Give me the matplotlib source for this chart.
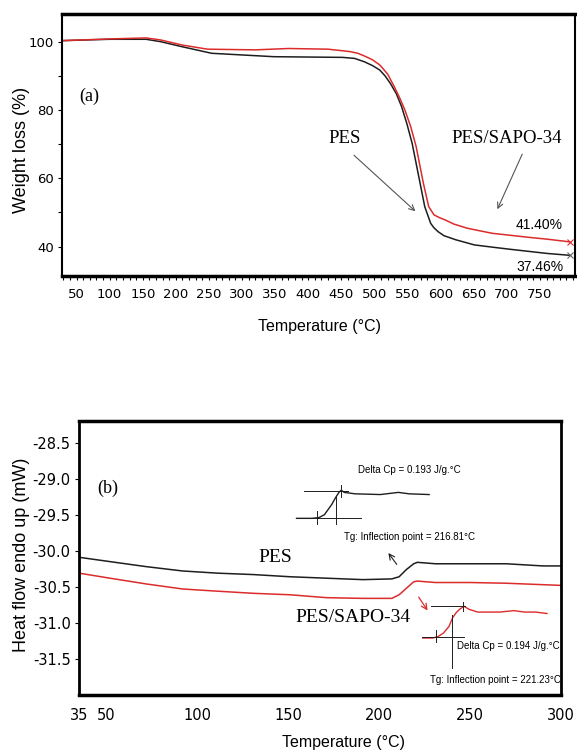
import matplotlib
matplotlib.use("Agg")
import matplotlib.pyplot as plt
from matplotlib.ticker import MultipleLocator, FixedLocator

SANS = "Liberation Sans"
SERIF = "Liberation Serif"
BLACK = "#1e1e1e"
RED = "#dc2b2b"

# --- (a) TGA: weight (%) vs temperature (C) ---
tga_temp_pes = [28, 100, 155, 177, 210, 254, 320, 348, 452, 470, 485, 497, 508, 516,
                524, 533, 541, 549, 557, 568, 576, 585, 590, 596, 605, 623, 651, 680,
                706, 761, 795]
tga_wt_pes = [100.3, 100.7, 100.7, 100.0, 98.5, 96.6, 95.9, 95.6, 95.4, 95.1, 94.1,
              93.0, 91.7, 90.0, 87.8, 84.8, 81.0, 76.0, 70.2, 59.5, 51.7, 46.8, 45.5,
              44.4, 43.2, 42.0, 40.5, 39.8, 39.2, 38.0, 37.46]
tga_temp_sapo = [28, 100, 155, 177, 210, 248, 320, 370, 430, 463, 475, 485, 497, 508,
                 520, 530, 538, 546, 555, 563, 574, 582, 590, 598, 607, 620, 640, 660,
                 678, 734, 760, 795]
tga_wt_sapo = [100.3, 100.8, 101.1, 100.5, 99.0, 97.8, 97.6, 98.0, 97.8, 97.1, 96.6,
               95.8, 94.7, 93.2, 90.5, 86.8, 83.6, 80.0, 75.0, 69.3, 58.5, 51.7, 49.3,
               48.5, 47.8, 46.6, 45.4, 44.6, 43.9, 42.7, 42.2, 41.40]
tga_xticks = [50, 100, 150, 200, 250, 300, 350, 400, 450, 500, 550, 600, 650, 700, 750]
tga_yticks = [40, 60, 80, 100]

# --- (b) DSC: heat flow (mW) vs temperature (C) ---
dsc_temp = [35, 52, 72, 92, 111, 131, 151, 171, 191, 207, 211, 215, 219, 221,
            231, 250, 270, 290, 300]
dsc_hf_pes = [-30.09, -30.15, -30.22, -30.28, -30.31, -30.33, -30.36, -30.38, -30.40,
              -30.39, -30.36, -30.26, -30.18, -30.16, -30.18, -30.18, -30.18, -30.21, -30.21]
dsc_hf_sapo = [-30.31, -30.38, -30.46, -30.53, -30.56, -30.59, -30.61, -30.65, -30.66,
               -30.66, -30.61, -30.52, -30.43, -30.42, -30.44, -30.44, -30.45, -30.47, -30.48]
dsc_yticks = [-31.5, -31.0, -30.5, -30.0, -29.5, -29.0, -28.5]
dsc_xticks = [35, 50, 100, 150, 200, 250, 300]

# enlarged glass-transition steps drawn inside panel (b)
step_temp_pes = [154.6, 163.0, 166.9, 169.9, 171.9, 173.9, 175.9, 177.9, 179.2, 180.8,
                 186.8, 200.7, 210.6, 216.5, 227.5]
step_hf_pes = [-29.55, -29.55, -29.54, -29.50, -29.43, -29.36, -29.27, -29.19, -29.16,
               -29.19, -29.21, -29.22, -29.19, -29.21, -29.22]
step_temp_sapo = [224.1, 229.4, 232.4, 235.4, 238.4, 240.4, 242.3, 244.3, 246.7, 249.3,
                  254.2, 266.2, 274.1, 280.0, 286.0, 292.3]
step_hf_sapo = [-31.21, -31.21, -31.19, -31.14, -31.05, -30.93, -30.86, -30.81, -30.77,
                -30.81, -30.85, -30.85, -30.83, -30.85, -30.85, -30.87]
# construction lines: (x0, x1, y0, y1)
guides_pes = [(158.6, 182.8, -29.17, -29.17), (154.6, 189.8, -29.55, -29.55),
              (166.0, 166.0, -29.455, -29.63), (176.5, 176.5, -29.25, -29.63),
              (179.2, 179.2, -29.09, -29.26)]
guides_sapo = [(228.5, 247.3, -30.76, -30.76), (223.5, 246.7, -31.19, -31.19),
               (231.4, 231.4, -31.10, -31.27), (240.0, 240.0, -30.89, -31.62),
               (246.3, 246.3, -30.71, -30.84)]

W, H = 577, 753
fig = plt.figure(figsize=(W / 100, H / 100), dpi=100)


def px_axes(left, top, right, bottom):
    return fig.add_axes([left / W, 1 - bottom / H, (right - left) / W, (bottom - top) / H])


# ---------------- panel (a) ----------------
ax1 = px_axes(62, 14, 575, 276)
ax1.plot(tga_temp_pes, tga_wt_pes, color=BLACK, lw=1.1)
ax1.plot(tga_temp_sapo, tga_wt_sapo, color=RED, lw=1.1)
ax1.plot(tga_temp_pes[-1], tga_wt_pes[-1], marker="x", color="#666666", ms=4, mew=0.8)
ax1.plot(tga_temp_sapo[-1], tga_wt_sapo[-1], marker="x", color=RED, ms=4, mew=0.8)
ax1.set_xlim(28, 803)
ax1.set_ylim(31.4, 108.1)
ax1.xaxis.set_major_locator(FixedLocator(tga_xticks))
ax1.xaxis.set_minor_locator(MultipleLocator(10))
ax1.yaxis.set_major_locator(FixedLocator(tga_yticks))
ax1.yaxis.set_minor_locator(MultipleLocator(10))
ax1.tick_params(which="both", direction="out", length=3, width=0.8, labelsize=9.5, pad=6)
ax1.tick_params(axis="y", pad=3)
ax1.spines["top"].set_linewidth(2.5)
ax1.spines["bottom"].set_linewidth(2.5)
ax1.spines["left"].set_linewidth(1.5)
ax1.spines["right"].set_linewidth(1.5)

ax1.text(69, 84, "(a)", family=SERIF, fontsize=13, ha="center", va="center")
ax1.text(455, 71.7, "PES", family=SERIF, fontsize=13.5, ha="center", va="center")
ax1.text(700, 71.7, "PES/SAPO-34", family=SERIF, fontsize=13.5, ha="center", va="center")
ax1.annotate("", xy=(565, 49.8), xytext=(466, 67.3),
             arrowprops=dict(arrowstyle="->", color="#555555", lw=0.8))
ax1.annotate("", xy=(684, 50.2), xytext=(725, 67.8),
             arrowprops=dict(arrowstyle="->", color="#555555", lw=0.8))
ax1.text(785, 46.3, "41.40%", family=SANS, fontsize=10, ha="right", va="center")
ax1.text(785, 34.1, "37.46%", family=SANS, fontsize=10, ha="right", va="center")

fig.text(22 / W, 1 - 150 / H, "Weight loss (%)", family=SANS, fontsize=13,
         rotation=90, ha="center", va="center")
fig.text(320 / W, 1 - 326 / H, "Temperature (°C)", family=SANS, fontsize=11.5,
         ha="center", va="center")

# ---------------- panel (b) ----------------
ax2 = px_axes(79, 421, 561, 695)
ax2.plot(dsc_temp, dsc_hf_pes, color=BLACK, lw=1.1)
ax2.plot(dsc_temp, dsc_hf_sapo, color=RED, lw=1.1)
ax2.plot(step_temp_pes, step_hf_pes, color=BLACK, lw=1.0)
ax2.plot(step_temp_sapo, step_hf_sapo, color=RED, lw=1.0)
for x0, x1, y0, y1 in guides_pes + guides_sapo:
    ax2.plot([x0, x1], [y0, y1], color=BLACK, lw=0.7)
ax2.set_xlim(35, 300)
ax2.set_ylim(-32.0, -28.2)
ax2.xaxis.set_major_locator(FixedLocator(dsc_xticks))
ax2.yaxis.set_major_locator(FixedLocator(dsc_yticks))
ax2.yaxis.set_major_formatter(plt.FuncFormatter(lambda v, p: f"{v:.1f}"))
ax2.tick_params(axis="x", direction="out", length=0, labelsize=10.5, pad=9)
ax2.tick_params(axis="y", direction="out", length=3, width=0.8, labelsize=10.5, pad=3)
ax2.spines["top"].set_linewidth(2.5)
ax2.spines["bottom"].set_linewidth(2.5)
ax2.spines["left"].set_linewidth(2.0)
ax2.spines["right"].set_linewidth(2.0)

ax2.text(50.9, -29.13, "(b)", family=SERIF, fontsize=13, ha="center", va="center")
ax2.text(143.1, -30.10, "PES", family=SERIF, fontsize=14, ha="center", va="center")
ax2.text(185.8, -30.93, "PES/SAPO-34", family=SERIF, fontsize=14, ha="center", va="center")
ax2.text(216.5, -28.88, "Delta Cp = 0.193 J/g.°C", family=SANS, fontsize=7,
         ha="center", va="center")
ax2.text(216.5, -29.815, "Tg: Inflection point = 216.81°C", family=SANS, fontsize=7,
         ha="center", va="center")
ax2.text(271.1, -31.32, "Delta Cp = 0.194 J/g.°C", family=SANS, fontsize=7,
         ha="center", va="center")
ax2.text(263.8, -31.795, "Tg: Inflection point = 221.23°C", family=SANS, fontsize=7,
         ha="center", va="center")
ax2.annotate("", xy=(204.2, -30.0), xytext=(210.6, -30.22),
             arrowprops=dict(arrowstyle="->", color=BLACK, lw=0.8))
ax2.annotate("", xy=(227.5, -30.86), xytext=(220.9, -30.61),
             arrowprops=dict(arrowstyle="->", color=RED, lw=0.9))

fig.text(22 / W, 1 - 555 / H, "Heat flow endo up (mW)", family=SANS, fontsize=13,
         rotation=90, ha="center", va="center")
fig.text(344 / W, 1 - 743 / H, "Temperature (°C)", family=SANS, fontsize=11.5,
         ha="center", va="center")

fig.savefig("out.png", dpi=100)
